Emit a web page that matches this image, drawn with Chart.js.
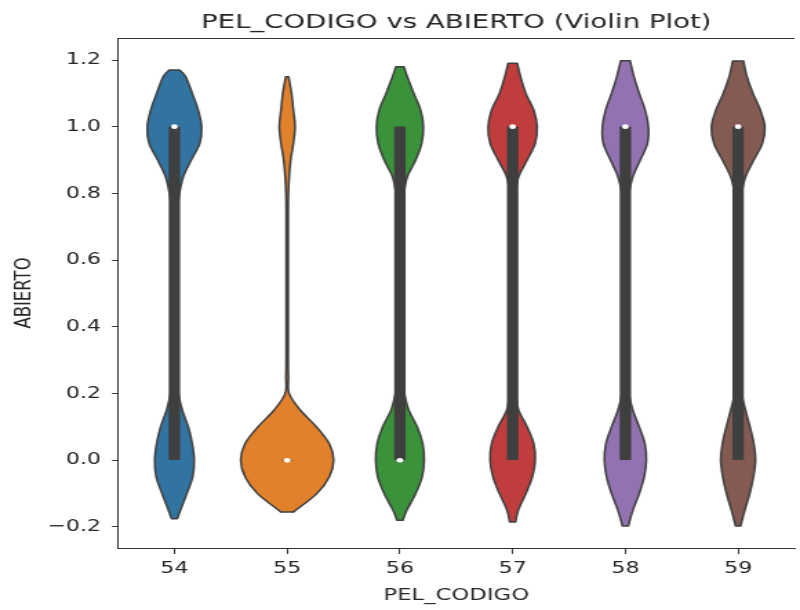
<!DOCTYPE html>
<html>
<head>
<meta charset="utf-8">
<script src="https://cdn.jsdelivr.net/npm/chart.js@4.4.1/dist/chart.umd.min.js"></script>
<style>
  html, body { margin: 0; padding: 0; background: #fff; overflow: hidden; }
  /* the reference figure is stretched sideways, so the canvas is too */
  #wrap { width: 580px; height: 610px; transform: scaleX(1.3793); transform-origin: 0 0; }
</style>
</head>
<body>
<div id="wrap"><canvas id="violinChart" width="580" height="610"></canvas></div>
<script>
// categories on the x axis
const categories = ["54", "55", "56", "57", "58", "59"];
const colors = ["#3274a1", "#e1812c", "#3a923a", "#c03d3e", "#9372b2", "#845b53"];

// y ticks
const yTicks = [-0.2, 0, 0.2, 0.4, 0.6, 0.8, 1.0, 1.2];
const yTickLabels = ["\u22120.2", "0.0", "0.2", "0.4", "0.6", "0.8", "1.0", "1.2"];

// violin half-widths (in category units) read at these ABIERTO levels
const levels = [-0.20, -0.15, -0.10, -0.05, 0.00, 0.05, 0.10, 0.15, 0.20, 0.25,
  0.30, 0.35, 0.40, 0.45, 0.50, 0.55, 0.60, 0.65, 0.70, 0.75,
  0.80, 0.85, 0.90, 0.95, 1.00, 1.05, 1.10, 1.15, 1.20];

const width54 = [null, 0.053, 0.110, 0.162, 0.175, 0.158, 0.123, 0.070, 0.035, 0.018,
  0.011, 0.009, 0.009, 0.009, 0.009, 0.009, 0.009, 0.009, 0.011, 0.022,
  0.044, 0.079, 0.149, 0.225, 0.241, 0.211, 0.158, 0.100, null];
const width55 = [null, 0.075, 0.263, 0.373, 0.412, 0.373, 0.260, 0.118, 0.018, 0.011,
  0.009, 0.009, 0.009, 0.009, 0.009, 0.009, 0.009, 0.009, 0.009, 0.009,
  0.011, 0.018, 0.031, 0.055, 0.070, 0.055, 0.039, null, null];
const width56 = [null, 0.061, 0.140, 0.197, 0.215, 0.202, 0.154, 0.079, 0.040, 0.018,
  0.011, 0.009, 0.009, 0.009, 0.009, 0.009, 0.009, 0.009, 0.011, 0.018,
  0.035, 0.066, 0.140, 0.193, 0.208, 0.184, 0.123, 0.066, null];
const width57 = [null, 0.050, 0.117, 0.175, 0.200, 0.187, 0.129, 0.053, 0.026, 0.015,
  0.011, 0.009, 0.009, 0.009, 0.009, 0.009, 0.009, 0.009, 0.011, 0.015,
  0.026, 0.053, 0.129, 0.200, 0.217, 0.187, 0.117, 0.070, null];
const width58 = [null, 0.066, 0.123, 0.167, 0.186, 0.173, 0.123, 0.066, 0.031, 0.016,
  0.011, 0.009, 0.009, 0.009, 0.009, 0.009, 0.009, 0.009, 0.011, 0.016,
  0.031, 0.066, 0.132, 0.196, 0.204, 0.175, 0.123, 0.076, null];
const width59 = [null, 0.059, 0.103, 0.136, 0.154, 0.139, 0.105, 0.066, 0.031, 0.016,
  0.011, 0.009, 0.009, 0.009, 0.009, 0.009, 0.009, 0.009, 0.011, 0.016,
  0.031, 0.066, 0.139, 0.215, 0.237, 0.197, 0.132, 0.079, null];
const violinWidths = [width54, width55, width56, width57, width58, width59];

// where each violin stops, and how wide its flat tip is there
const violinLow = [-0.175, -0.155, -0.180, -0.185, -0.197, -0.197];
const violinHigh = [1.170, 1.150, 1.180, 1.190, 1.198, 1.197];
const tipLow = [0.026, 0.057, 0.026, 0.026, 0.026, 0.022];
const tipHigh = [0.045, 0.013, 0.035, 0.041, 0.041, 0.048];

// inner box plot
const q1 = [0, 0, 0, 0, 0, 0];
const q3 = [1, 0, 1, 1, 1, 1];
const medians = [1, 0, 0, 1, 1, 1];
const whiskerLow = [0, 0, 0, 0, 0, 0];
const whiskerHigh = [1, 0, 1, 1, 1, 1];

const FONT = "'DejaVu Sans', sans-serif";
const INK = "#262626";
const EDGE = "#3f3f3f";

function curveThrough(ctx, p) {
  for (let k = 0; k < p.length - 1; k++) {
    const p0 = p[k - 1] || p[k], p1 = p[k], p2 = p[k + 1], p3 = p[k + 2] || p2;
    ctx.bezierCurveTo(
      p1[0] + (p2[0] - p0[0]) / 6, p1[1] + (p2[1] - p0[1]) / 6,
      p2[0] - (p3[0] - p1[0]) / 6, p2[1] - (p3[1] - p1[1]) / 6,
      p2[0], p2[1]);
  }
}

const violinPlugin = {
  id: "violins",
  beforeDatasetsDraw(chart) {
    const { ctx, scales: { x, y } } = chart;
    ctx.save();
    categories.forEach((cat, i) => {
      const prof = [[tipLow[i], violinLow[i]]];
      levels.forEach((lv, k) => {
        const w = violinWidths[i][k];
        if (w !== null && lv > violinLow[i] && lv < violinHigh[i]) prof.push([w, lv]);
      });
      prof.push([tipHigh[i], violinHigh[i]]);
      const right = prof.map(([w, v]) => [x.getPixelForValue(i + w), y.getPixelForValue(v)]);
      const left = prof.slice().reverse().map(([w, v]) => [x.getPixelForValue(i - w), y.getPixelForValue(v)]);
      ctx.beginPath();
      ctx.moveTo(right[0][0], right[0][1]);
      curveThrough(ctx, right);
      ctx.lineTo(left[0][0], left[0][1]);
      curveThrough(ctx, left);
      ctx.closePath();
      ctx.fillStyle = colors[i];
      ctx.fill();
      ctx.lineWidth = 1.5;
      ctx.strokeStyle = EDGE;
      ctx.lineJoin = "round";
      ctx.stroke();
    });
    ctx.restore();
  }
};

const topSpine = {
  id: "topSpine",
  afterDraw(chart) {
    const { ctx, chartArea } = chart;
    ctx.save();
    ctx.strokeStyle = "#333";
    ctx.lineWidth = 1;
    ctx.beginPath();
    ctx.moveTo(chartArea.left, chartArea.top + 0.5);
    ctx.lineTo(chartArea.right, chartArea.top + 0.5);
    ctx.stroke();
    ctx.restore();
  }
};

const ctx = document.getElementById("violinChart").getContext("2d");

new Chart(ctx, {
  type: "scatter",
  data: {
    datasets: [
      {
        label: "median",
        data: medians.map((m, i) => ({ x: i, y: m })),
        pointRadius: 2.4,
        pointBackgroundColor: "#ffffff",
        pointBorderWidth: 0,
        order: 0
      },
      {
        type: "bar",
        label: "box",
        data: categories.map((c, i) => ({ x: i, y: [q1[i], q3[i]] })),
        backgroundColor: EDGE,
        borderWidth: 0,
        barThickness: 7.6,
        grouped: false,
        order: 1
      },
      {
        type: "bar",
        label: "whisker",
        data: categories.map((c, i) => ({ x: i, y: [whiskerLow[i], whiskerHigh[i]] })),
        backgroundColor: EDGE,
        borderWidth: 0,
        barThickness: 2.2,
        grouped: false,
        order: 2
      }
    ]
  },
  options: {
    responsive: false,
    animation: false,
    layout: { padding: 0 },
    plugins: {
      legend: { display: false },
      tooltip: { enabled: false },
      title: {
        display: true,
        fullSize: false,
        text: "PEL_CODIGO vs ABIERTO (Violin Plot)",
        color: INK,
        font: { family: FONT, size: 20, weight: "normal" },
        padding: { top: 11, bottom: 3 }
      }
    },
    scales: {
      x: {
        type: "linear",
        min: -0.5,
        max: 5.5,
        offset: false,
        afterBuildTicks: (s) => { s.ticks = categories.map((c, i) => ({ value: i })); },
        afterFit: (s) => { s.height = 62; },
        ticks: {
          autoSkip: false,
          maxRotation: 0,
          padding: 5,
          color: INK,
          font: { family: FONT, size: 16 },
          callback: (v, idx) => categories[idx]
        },
        grid: { drawOnChartArea: false, drawTicks: true, tickLength: 6, color: "#333", offset: false },
        border: { display: true, color: "#333", width: 1 },
        title: {
          display: true,
          text: "PEL_CODIGO",
          color: INK,
          font: { family: FONT, size: 16.5 },
          padding: { top: 0, bottom: 4 }
        }
      },
      y: {
        type: "linear",
        min: -0.263,
        max: 1.266,
        afterBuildTicks: (s) => { s.ticks = yTicks.map((v) => ({ value: v })); },
        afterFit: (s) => { s.width = 85.6; },
        ticks: {
          autoSkip: false,
          padding: 8,
          color: INK,
          font: { family: FONT, size: 16 },
          callback: (v, idx) => yTickLabels[idx]
        },
        grid: { drawOnChartArea: false, drawTicks: true, tickLength: 4.4, color: "#333" },
        border: { display: true, color: "#333", width: 1 },
        title: {
          display: true,
          text: "ABIERTO",
          color: INK,
          font: { family: FONT, size: 16.5 },
          padding: { top: 7.5, bottom: 0 }
        }
      }
    }
  },
  plugins: [violinPlugin, topSpine]
});
</script>
</body>
</html>
